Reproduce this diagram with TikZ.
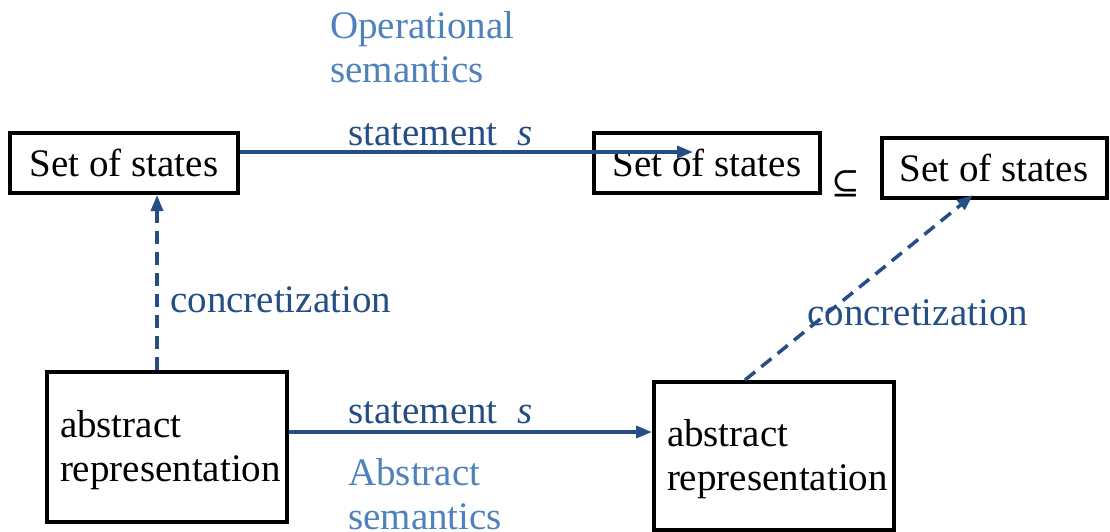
\documentclass[tikz,border=0pt]{standalone}
\usepackage{fontspec}
\setmainfont{Liberation Serif}
\newfontfamily\symfont{DejaVu Serif}
\usetikzlibrary{arrows.meta}
\definecolor{dblue}{RGB}{37,78,133}
\definecolor{lblue}{RGB}{79,129,189}
\begin{document}
\begin{tikzpicture}[x=1pt,y=-1pt,
  every node/.style={font=\fontsize{39}{44}\selectfont},
  box/.style={draw=black,line width=4pt,inner sep=0pt},
  absbox/.style={box,minimum width=240pt,text width=214pt,align=left,inner xsep=13pt,text height=34pt},
  conn/.style={draw=dblue,line width=3.5pt,-{Triangle[length=16pt,width=12pt]}},
  dconn/.style={conn,dash pattern=on 13pt off 8pt},
  lbl/.style={text=dblue,anchor=base west,inner sep=0pt},
  sem/.style={text=lblue,anchor=base west,inner sep=0pt}]
\useasboundingbox (0,0) rectangle (1110,531);

\node[box,minimum width=228pt,minimum height=60pt] (A) at (124,163) {Set of states};
\node[box,minimum width=226pt,minimum height=60pt] (B) at (707,163) {Set of states};
\node[box,minimum width=225pt,minimum height=60pt] (C) at (994,168) {Set of states};
\node[inner sep=0pt,font=\symfont\fontsize{34}{38}\selectfont] (sub) at (846,184) {⊆};

\node[absbox,minimum height=150pt] (D) at (167,447) {abstract\\representation};
\node[absbox,minimum height=148pt] (E) at (774,456) {abstract\\representation};

\coordinate (Bin) at (693,152);

% labels
\node[sem] (op1) at (330,38) {Operational};
\node[sem] (op2) at (330,82) {semantics};
\node[lbl] (st1) at (348,145) {statement~~\textit{s}};
\node[lbl] (st2) at (348,423) {statement~~\textit{s}};
\node[sem] (ab1) at (348,485) {Abstract};
\node[sem] (ab2) at (348,529) {semantics};
\node[lbl] (c1) at (170,312) {concretization};
\node[lbl] (c2) at (807,325) {concretization};

% connectors
\draw[conn] ([yshift=11pt]A.east) -- (Bin);
\draw[conn] ([yshift=15pt]D.east) -- ([yshift=24pt]E.west);
\draw[dconn] ([xshift=-10pt]D.north) -- ([xshift=33pt]A.south);
\draw[dconn] ([xshift=-29pt]E.north) -- ([xshift=-21pt,yshift=5pt]C.south);
\end{tikzpicture}
\end{document}
